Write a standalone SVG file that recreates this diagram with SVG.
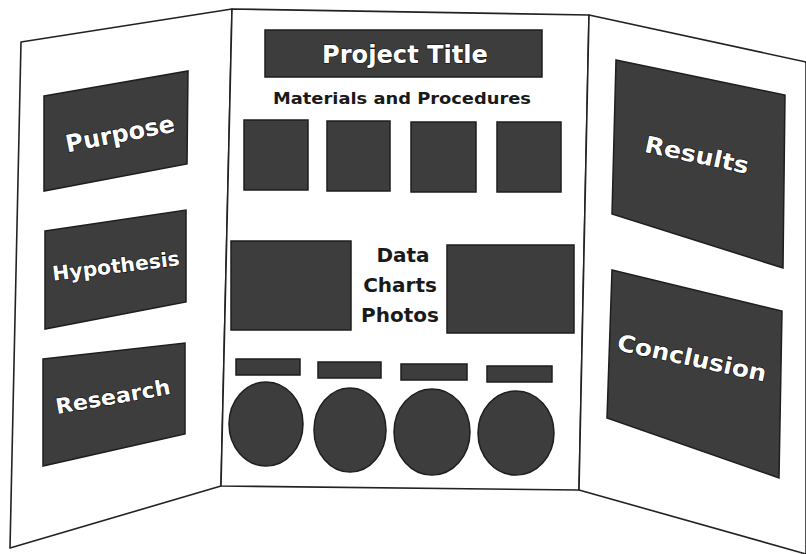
<svg xmlns="http://www.w3.org/2000/svg" width="806" height="554" viewBox="0 0 806 554">
<style>
.panel{fill:#fff;stroke:#222;stroke-width:1.6;stroke-linejoin:round}
.box{fill:#3d3d3d;stroke:#1e1e1e;stroke-width:1.5}
.lbl{font-family:"DejaVu Sans","Liberation Sans",sans-serif;font-weight:bold;fill:#fff;stroke:#111;stroke-width:1.2;paint-order:stroke;text-anchor:middle}
.dark{font-family:"DejaVu Sans","Liberation Sans",sans-serif;font-weight:bold;fill:#1a1a1a;text-anchor:middle}
</style>
<rect width="806" height="554" fill="#fff"/>
<g id="board">
<polygon id="left-panel" class="panel" points="21,42 232,9 221,486 10,548"/>
<polygon id="center-panel" class="panel" points="232,9 589,15 579,490 221,486"/>
<polygon id="right-panel" class="panel" points="589,15 806,62 806,554 579,490"/>
</g>
<g id="left-items">
<g id="purpose"><polygon class="box" points="44,96 188,71 187,164 44,191"/>
<text class="lbl" x="120" y="142" font-size="24" transform="rotate(-11 120 133)">Purpose</text></g>
<g id="hypothesis"><polygon class="box" points="45,231 186,210 186,302 45,329"/>
<text class="lbl" x="116" y="273" font-size="20" transform="rotate(-7 116 266)" textLength="128" lengthAdjust="spacingAndGlyphs">Hypothesis</text></g>
<g id="research"><polygon class="box" points="43,359 185,343 185,434 43,466"/>
<text class="lbl" x="113" y="404" font-size="21" transform="rotate(-10 113 397)" textLength="116" lengthAdjust="spacingAndGlyphs">Research</text></g>
</g>
<g id="center-items">
<g id="title"><rect class="box" x="265" y="30" width="277" height="47"/>
<text class="lbl" x="405" y="63" font-size="25" textLength="166" lengthAdjust="spacingAndGlyphs">Project Title</text></g>
<text id="materials" class="dark" x="402" y="104" font-size="16" textLength="258" lengthAdjust="spacingAndGlyphs">Materials and Procedures</text>
<g id="squares">
<rect class="box" x="244" y="120" width="64" height="70"/>
<rect class="box" x="327" y="121" width="63" height="70"/>
<rect class="box" x="411" y="122" width="65" height="70"/>
<rect class="box" x="497" y="122" width="64" height="70"/>
</g>
<rect id="data-left" class="box" x="231" y="241" width="120" height="89"/>
<rect id="data-right" class="box" x="447" y="245" width="127" height="88"/>
<g id="data-text">
<text class="dark" x="403" y="262" font-size="20">Data</text>
<text class="dark" x="400" y="292" font-size="20">Charts</text>
<text class="dark" x="400" y="322" font-size="20">Photos</text>
</g>
<g id="bars">
<rect class="box" x="236" y="359" width="64" height="16"/>
<rect class="box" x="318" y="362" width="63" height="16"/>
<rect class="box" x="401" y="364" width="66" height="16"/>
<rect class="box" x="487" y="366" width="65" height="16"/>
</g>
<g id="circles">
<ellipse class="box" cx="266" cy="424" rx="37" ry="42"/>
<ellipse class="box" cx="350" cy="430" rx="36" ry="42"/>
<ellipse class="box" cx="432" cy="432" rx="38" ry="43"/>
<ellipse class="box" cx="516" cy="433" rx="38" ry="42"/>
</g>
</g>
<g id="right-items">
<g id="results"><polygon class="box" points="616,60 785,95 783,268 612,214"/>
<text class="lbl" x="697" y="163" font-size="23" transform="rotate(12 697 155)" textLength="106" lengthAdjust="spacingAndGlyphs">Results</text></g>
<g id="conclusion"><polygon class="box" points="612,270 782,311 779,478 607,418"/>
<text class="lbl" x="692" y="366" font-size="23" transform="rotate(12 692 358)" textLength="152" lengthAdjust="spacingAndGlyphs">Conclusion</text></g>
</g>
</svg>
